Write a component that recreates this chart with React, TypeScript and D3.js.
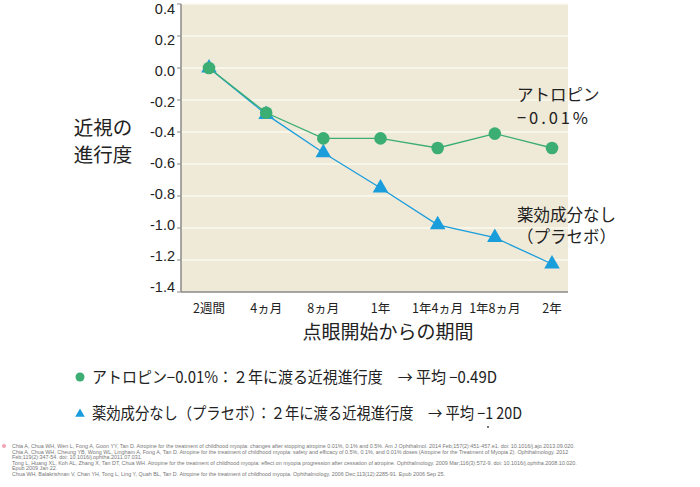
import React from "react";
import * as d3 from "d3";

const categories = ["2週間", "4ヵ月", "8ヵ月", "1年", "1年4ヵ月", "1年8ヵ月", "2年"];
const atropineValues = [0.0, -0.28, -0.44, -0.44, -0.5, -0.41, -0.5];
const placeboValues = [0.0, -0.29, -0.53, -0.75, -0.98, -1.06, -1.225];
const yTicks = [0.4, 0.2, 0.0, -0.2, -0.4, -0.6, -0.8, -1.0, -1.2, -1.4];

const references = [
  "Chia A, Chua WH, Wen L, Fong A, Goon YY, Tan D. Atropine for the treatment of childhood myopia: changes after stopping atropine 0.01%, 0.1% and 0.5%. Am J Ophthalmol. 2014 Feb;157(2):451-457.e1. doi: 10.1016/j.ajo.2013.09.020.",
  "Chia A, Chua WH, Cheung YB, Wong WL, Lingham A, Fong A, Tan D. Atropine for the treatment of childhood myopia: safety and efficacy of 0.5%, 0.1%, and 0.01% doses (Atropine for the Treatment of Myopia 2). Ophthalmology. 2012",
  "Feb;119(2):347-54. doi: 10.1016/j.ophtha.2011.07.031.",
  "Tong L, Huang XL, Koh AL, Zhang X, Tan DT, Chua WH. Atropine for the treatment of childhood myopia: effect on myopia progression after cessation of atropine. Ophthalmology. 2009 Mar;116(3):572-9. doi: 10.1016/j.ophtha.2008.10.020.",
  "Epub 2009 Jan 22.",
  "Chua WH, Balakrishnan V, Chan YH, Tong L, Ling Y, Quah BL, Tan D. Atropine for the treatment of childhood myopia. Ophthalmology. 2006 Dec;113(12):2285-91. Epub 2006 Sep 25.",
];

const GREEN = "#3cae74";
const BLUE = "#1a9ddb";
const FONT = "'Noto Sans CJK JP', 'Liberation Sans', Arial, sans-serif";
const NUMFONT = "'Liberation Sans', Arial, sans-serif";

export default function App() {
  const plotLeft = 181;
  const plotRight = 568;
  const plotTop = 4;
  const plotBottom = 292;

  const x = d3.scalePoint<string>().domain(categories).range([209, 552]);
  const y = d3.scaleLinear().domain([-1.4, 0.4]).range([plotBottom, plotTop]);
  const yLabel = d3.scaleLinear().domain([-1.4, 0.4]).range([287, 8.5]);

  const line = d3
    .line<number>()
    .x((_, i) => x(categories[i]) as number)
    .y((d) => y(d));

  const tri = d3.symbol().type(d3.symbolTriangle).size(105)();

  return (
    <div style={{ position: "absolute", left: 0, top: 0 }}>
      <svg width={700} height={487} style={{ display: "block", background: "#fff" }}>
        <rect x={plotLeft} y={plotTop} width={plotRight - plotLeft} height={plotBottom - plotTop} fill="#efe9d8" />
        {yTicks.slice(0, -1).map((t) => (
          <line key={t} x1={plotLeft} x2={plotRight} y1={y(t)} y2={y(t)} stroke="#fbf8ef" strokeWidth={1.5} />
        ))}
        <line x1={plotLeft} x2={plotLeft} y1={plotTop} y2={plotBottom} stroke="#8a8a8a" strokeWidth={1.5} />
        <line x1={plotLeft} x2={plotRight} y1={plotBottom} y2={plotBottom} stroke="#8a8a8a" strokeWidth={1.5} />
        {yTicks.map((t) => (
          <g key={"t" + t}>
            <line x1={plotLeft - 4} x2={plotLeft} y1={y(t)} y2={y(t)} stroke="#8a8a8a" />
            <text x={175} y={yLabel(t)} dy="0.36em" textAnchor="end" fontFamily={NUMFONT} fontSize={14.5} fill="#222">
              {t.toFixed(1)}
            </text>
          </g>
        ))}
        {categories.map((c) => (
          <text key={c} x={x(c)} y={308} dy="0.36em" textAnchor="middle" fontFamily={FONT} fontSize={12.5} fill="#222">
            {c}
          </text>
        ))}
        <text x={388} y={332} dy="0.36em" textAnchor="middle" fontFamily={FONT} fontSize={19} fill="#222">
          点眼開始からの期間
        </text>
        <text x={103} y={128} dy="0.36em" textAnchor="middle" fontFamily={FONT} fontSize={19.5} fill="#222">
          近視の
        </text>
        <text x={103} y={155} dy="0.36em" textAnchor="middle" fontFamily={FONT} fontSize={19.5} fill="#222">
          進行度
        </text>

        <path d={line(placeboValues) || ""} fill="none" stroke={BLUE} strokeWidth={1.3} />
        {placeboValues.map((v, i) => (
          <path key={"p" + i} d={tri || ""} transform={`translate(${x(categories[i])},${y(v)})`} fill={BLUE} />
        ))}
        <path d={line(atropineValues) || ""} fill="none" stroke={GREEN} strokeWidth={1.3} />
        {atropineValues.map((v, i) => (
          <circle key={"a" + i} cx={x(categories[i])} cy={y(v)} r={6.3} fill={GREEN} />
        ))}

        <text x={517} y={95} dy="0.36em" fontFamily={FONT} fontSize={16.5} fill="#222">アトロピン</text>
        <text x={517} y={118} dy="0.36em" fontFamily={FONT} fontSize={16.5} fill="#222" textLength={71} lengthAdjust="spacing">−0.01%</text>
        <text x={517} y={215} dy="0.36em" fontFamily={FONT} fontSize={16.5} fill="#222">薬効成分なし</text>
        <text x={517} y={237} dy="0.36em" fontFamily={FONT} fontSize={16.5} fill="#222">（プラセボ）</text>

        <circle cx={80} cy={377} r={4.5} fill={GREEN} />
        <text x={92} y={377} dy="0.36em" fontFamily={FONT} fontSize={15.8} fill="#222" textLength={405} lengthAdjust="spacingAndGlyphs">
          アトロピン−0.01%：２年に渡る近視進行度　→ 平均 −0.49D
        </text>
        <path d={d3.symbol().type(d3.symbolTriangle).size(40)() || ""} transform="translate(80,414)" fill={BLUE} />
        <text x={92} y={413} dy="0.36em" fontFamily={FONT} fontSize={15.8} fill="#222" textLength={430} lengthAdjust="spacingAndGlyphs">
          薬効成分なし（プラセボ）：２年に渡る近視進行度　→ 平均 −1 20D
        </text>
        <circle cx={488} cy={427} r={0.9} fill="#333" />

        <circle cx={4} cy={446} r={2} fill="#f2a3b3" />
        {references.map((r, i) => (
          <text key={i} x={12} y={446 + i * 5.6} dy="0.36em" fontFamily={NUMFONT} fontSize={5.4} fill="#777">
            {r}
          </text>
        ))}
      </svg>
    </div>
  );
}
